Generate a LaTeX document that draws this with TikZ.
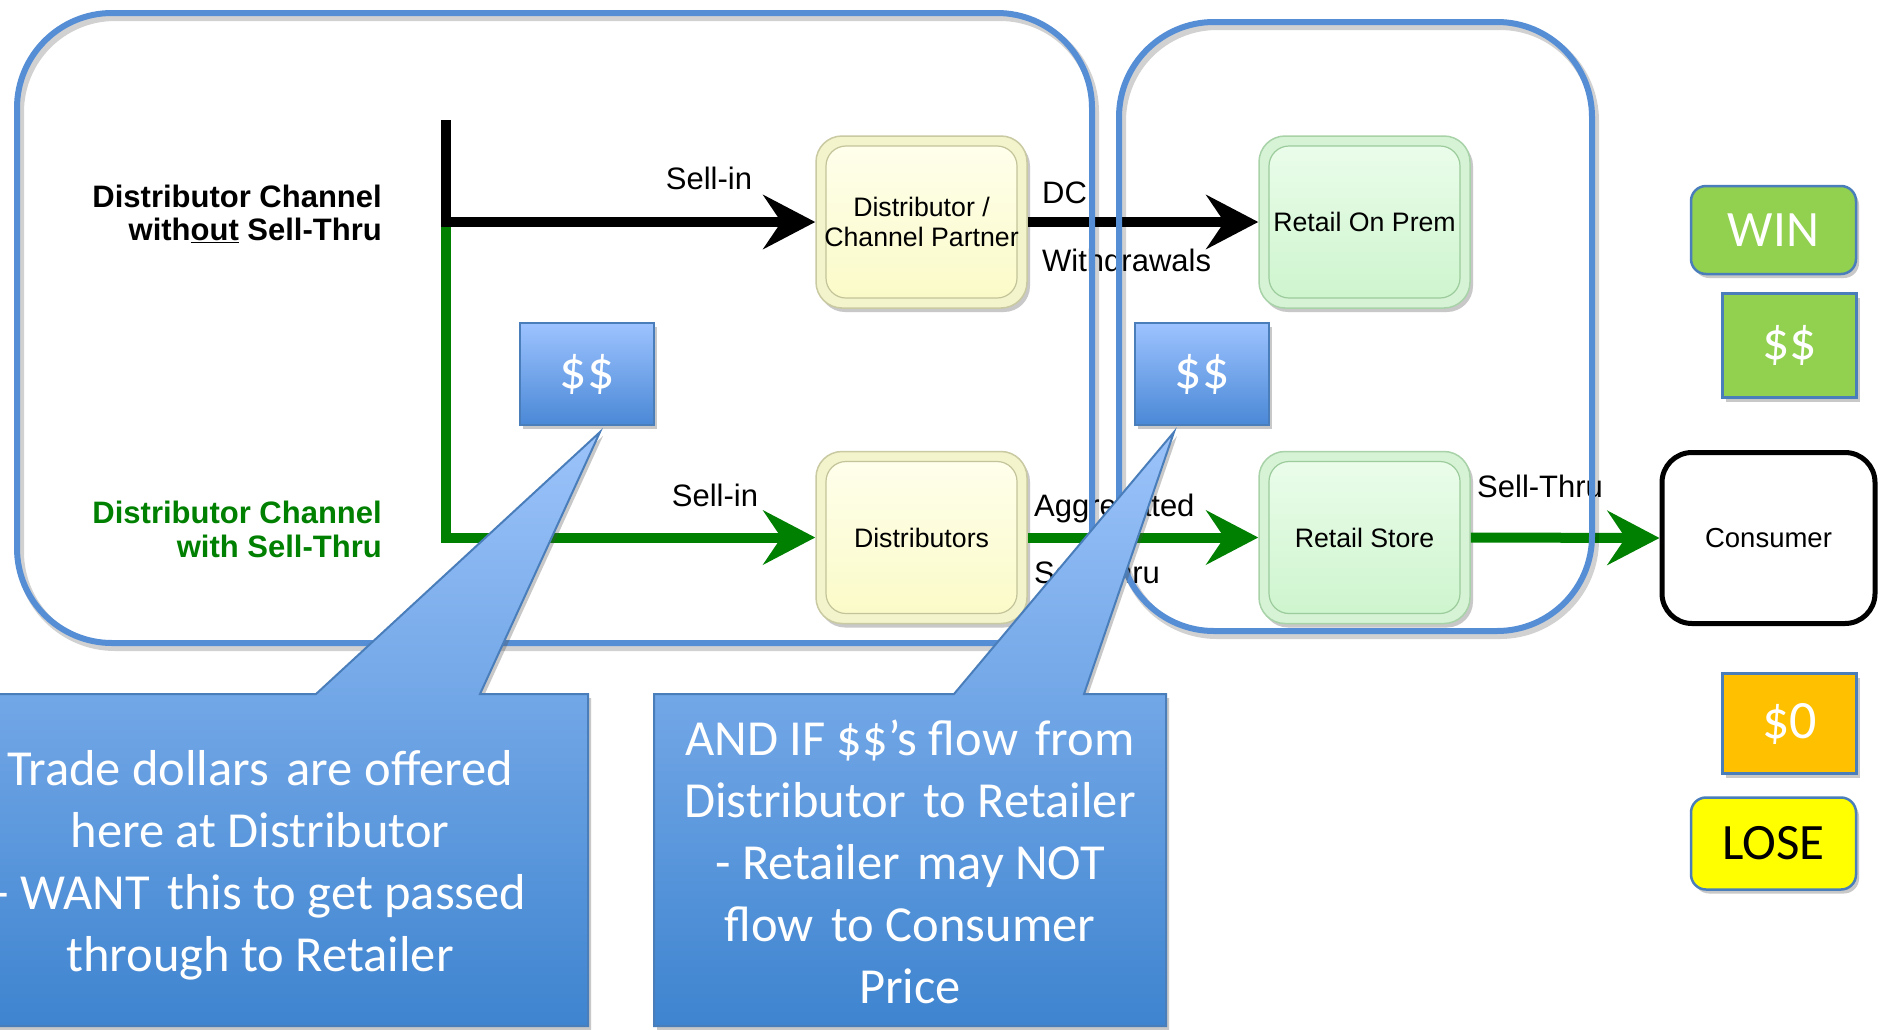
\documentclass[tikz,border=0pt]{standalone}
\usepackage{fontspec}
\setmainfont{Liberation Sans}
\newfontfamily\calfont{Carlito}
\usetikzlibrary{arrows.meta,shadows}
\newcommand\widegap{\hspace{6pt}}
\definecolor{frameblue}{HTML}{558ED5}
\definecolor{edgeblue}{HTML}{4A7EBB}
\definecolor{callouttop}{HTML}{9CC3FA}
\definecolor{calloutbot}{HTML}{3E84CF}
\definecolor{dtop}{HTML}{9DC3FF}
\definecolor{dbot}{HTML}{4A88D6}
\definecolor{flowgreen}{HTML}{008000}
\definecolor{wingreen}{HTML}{92D050}
\definecolor{zeroorange}{HTML}{FFC000}
\definecolor{loseyellow}{HTML}{FFFF00}
\definecolor{ylouter}{HTML}{F3F3CC}
\definecolor{ylborder}{HTML}{C9C9A2}
\definecolor{ylinner}{HTML}{C4C49A}
\definecolor{yltop}{HTML}{FFFFEE}
\definecolor{ylbot}{HTML}{FAFAC6}
\definecolor{grouter}{HTML}{D6F3D6}
\definecolor{grborder}{HTML}{A8D2A8}
\definecolor{grinner}{HTML}{9CCB9C}
\definecolor{grtop}{HTML}{ECFDEC}
\definecolor{grbot}{HTML}{CCF4CC}
\begin{document}
\begin{tikzpicture}[x=1pt,y=-1pt,
  every node/.style={inner sep=0pt},
  shadowed/.style={drop shadow={shadow xshift=3pt,shadow yshift=-4pt,opacity=0.3,fill=black!70}},
  bevel/.style={line width=1.5pt, rounded corners=26pt, minimum width=211pt, minimum height=172pt,
    align=center, font=\fontsize{26.7}{30}\selectfont, shadowed},
  ybox/.style={bevel, draw=ylborder, fill=ylouter,
    path picture={\draw[draw=ylinner, line width=1.2pt, rounded corners=20pt, top color=yltop, bottom color=ylbot]
      ([xshift=10pt,yshift=-10pt]path picture bounding box.north west) rectangle
      ([xshift=-10pt,yshift=10pt]path picture bounding box.south east);}},
  gbox/.style={bevel, draw=grborder, fill=grouter,
    path picture={\draw[draw=grinner, line width=1.2pt, rounded corners=20pt, top color=grtop, bottom color=grbot]
      ([xshift=10pt,yshift=-10pt]path picture bounding box.north west) rectangle
      ([xshift=-10pt,yshift=10pt]path picture bounding box.south east);}},
  consbox/.style={draw=black, line width=5pt, fill=white, rounded corners=30pt,
    minimum width=213pt, minimum height=171pt, font=\fontsize{27.5}{31}\selectfont},
  flowtip/.style={-{Stealth[length=52pt,width=54pt,inset=18pt]}},
  blackline/.style={line width=10pt, draw=black, flowtip},
  greenline/.style={line width=10pt, draw=flowgreen, flowtip},
  lbl/.style={font=\fontsize{31}{35}\selectfont},
  sidelbl/.style={anchor=base east, font=\bfseries\fontsize{31}{33}\selectfont},
  frame/.style={draw=frameblue, line width=6pt, rounded corners=95pt},
  frameshadow/.style={draw=black, opacity=0.18, line width=8pt, rounded corners=95pt},
  dollarbox/.style={draw=edgeblue, line width=2.5pt, top color=dtop, bottom color=dbot,
    minimum width=134pt, minimum height=102pt, text=white, font=\calfont\fontsize{54}{60}\selectfont, shadowed},
  callout/.style={draw=edgeblue, line width=2pt, top color=callouttop, bottom color=calloutbot, shadowed},
  callouttext/.style={text=white, align=center, font=\calfont\fontsize{50.5}{62}\selectfont},
  legend/.style={draw=edgeblue, line width=2.5pt, font=\calfont\fontsize{51}{58}\selectfont, shadowed},
  moneylegend/.style={legend, font=\calfont\fontsize{54}{60}\selectfont}
]
\useasboundingbox (0,0) rectangle (1881,1029);
\clip (0,0) rectangle (1881,1029);
\fill[white] (0,0) rectangle (1881,1029);

% boxes
\node[ybox] (dcp) at (921.5,222) {Distributor /\\Channel Partner};
\node[ybox] (dist) at (921.5,537.5) {Distributors};
\node[gbox] (rop) at (1364.5,222) {Retail On Prem};
\node[gbox] (rs) at (1364.5,537.5) {Retail Store};
\node[consbox] (cons) at (1768.5,538) {Consumer};

% flows
\coordinate (vtop) at (446,120);
\coordinate (vj) at (446,222);
\coordinate (vb) at (446,537.5);
\draw[greenline] (vj) -- (vb) -- (dist.west);
\draw[blackline] (vtop) -- (vj) -- (dcp.west);
\draw[blackline] (dcp.east) -- (rop.west);
\draw[greenline] (dist.east) -- (rs.west);
\draw[greenline] (rs.east) -- (cons.west);

% labels
\node[lbl, anchor=base] (sellin1) at (709,189) {Sell-in};
\node[lbl, anchor=base] (sellin2) at (715,506) {Sell-in};
\node[lbl, anchor=base west] (dc) at (1042,203) {DC};
\node[lbl, anchor=base west] (withd) at (1042,271) {Withdrawals};
\node[lbl, anchor=base west] (aggr) at (1034,516) {Aggregated};
\node[lbl, anchor=base west] (st1) at (1034,583) {Sell-Thru};
\node[lbl, anchor=base west] (st2) at (1477,497) {Sell-Thru};

% frames
\draw[frameshadow] (20,17) rectangle (1095,647);
\draw[frameshadow] (1122,26) rectangle (1595,635);
\draw[frame] (17,13) rectangle (1092,643);
\draw[frame] (1119,22) rectangle (1592,631);

% money boxes
\node[dollarbox] (d1) at (587,374) {\$\$};
\node[dollarbox] (d2) at (1202,374) {\$\$};

% callouts
\coordinate (tipA) at (600,432);
\coordinate (tipB) at (1174,432);
\draw[callout] (-80,694) -- (316,694) -- (tipA) -- (480,694) -- (588,694) -- (588,1026) -- (-80,1026) -- cycle;
\draw[callout] (654,694) -- (954,694) -- (tipB) -- (1084,694) -- (1166,694) -- (1166,1026) -- (654,1026) -- cycle;
\node[callouttext] (c1text) at (260,865) {Trade dollars\widegap{} are offered\\here at Distributor\\- WANT\widegap{} this to get passed\\through to Retailer};
\node[callouttext] (c2text) at (910,862) {AND IF \$\$’s flow\widegap{} from\\Distributor\widegap{} to Retailer\\- Retailer\widegap{} may NOT\\flow\widegap{} to Consumer\\Price};

% side labels
\node[sidelbl] (l1a) at (382,207) {Distributor Channel};
\node[sidelbl] (l1b) at (382,240) {with\underline{out} Sell-Thru};
\node[sidelbl, text=flowgreen] (l2a) at (382,523) {Distributor Channel};
\node[sidelbl, text=flowgreen] (l2b) at (382,557) {with Sell-Thru};

% legend
\node[legend, rounded corners=15pt, fill=wingreen, text=white, minimum width=165pt, minimum height=88pt] (win) at (1773.5,230) {WIN};
\node[moneylegend, fill=wingreen, text=white, minimum width=134pt, minimum height=104pt] (gdollar) at (1789.5,345.5) {\$\$};
\node[moneylegend, fill=zeroorange, text=white, minimum width=134pt, minimum height=100pt] (zero) at (1789.5,723.5) {\$0};
\node[legend, rounded corners=15pt, fill=loseyellow, text=black, minimum width=165pt, minimum height=92pt] (lose) at (1773.5,843.5) {LOSE};
\end{tikzpicture}
\end{document}
